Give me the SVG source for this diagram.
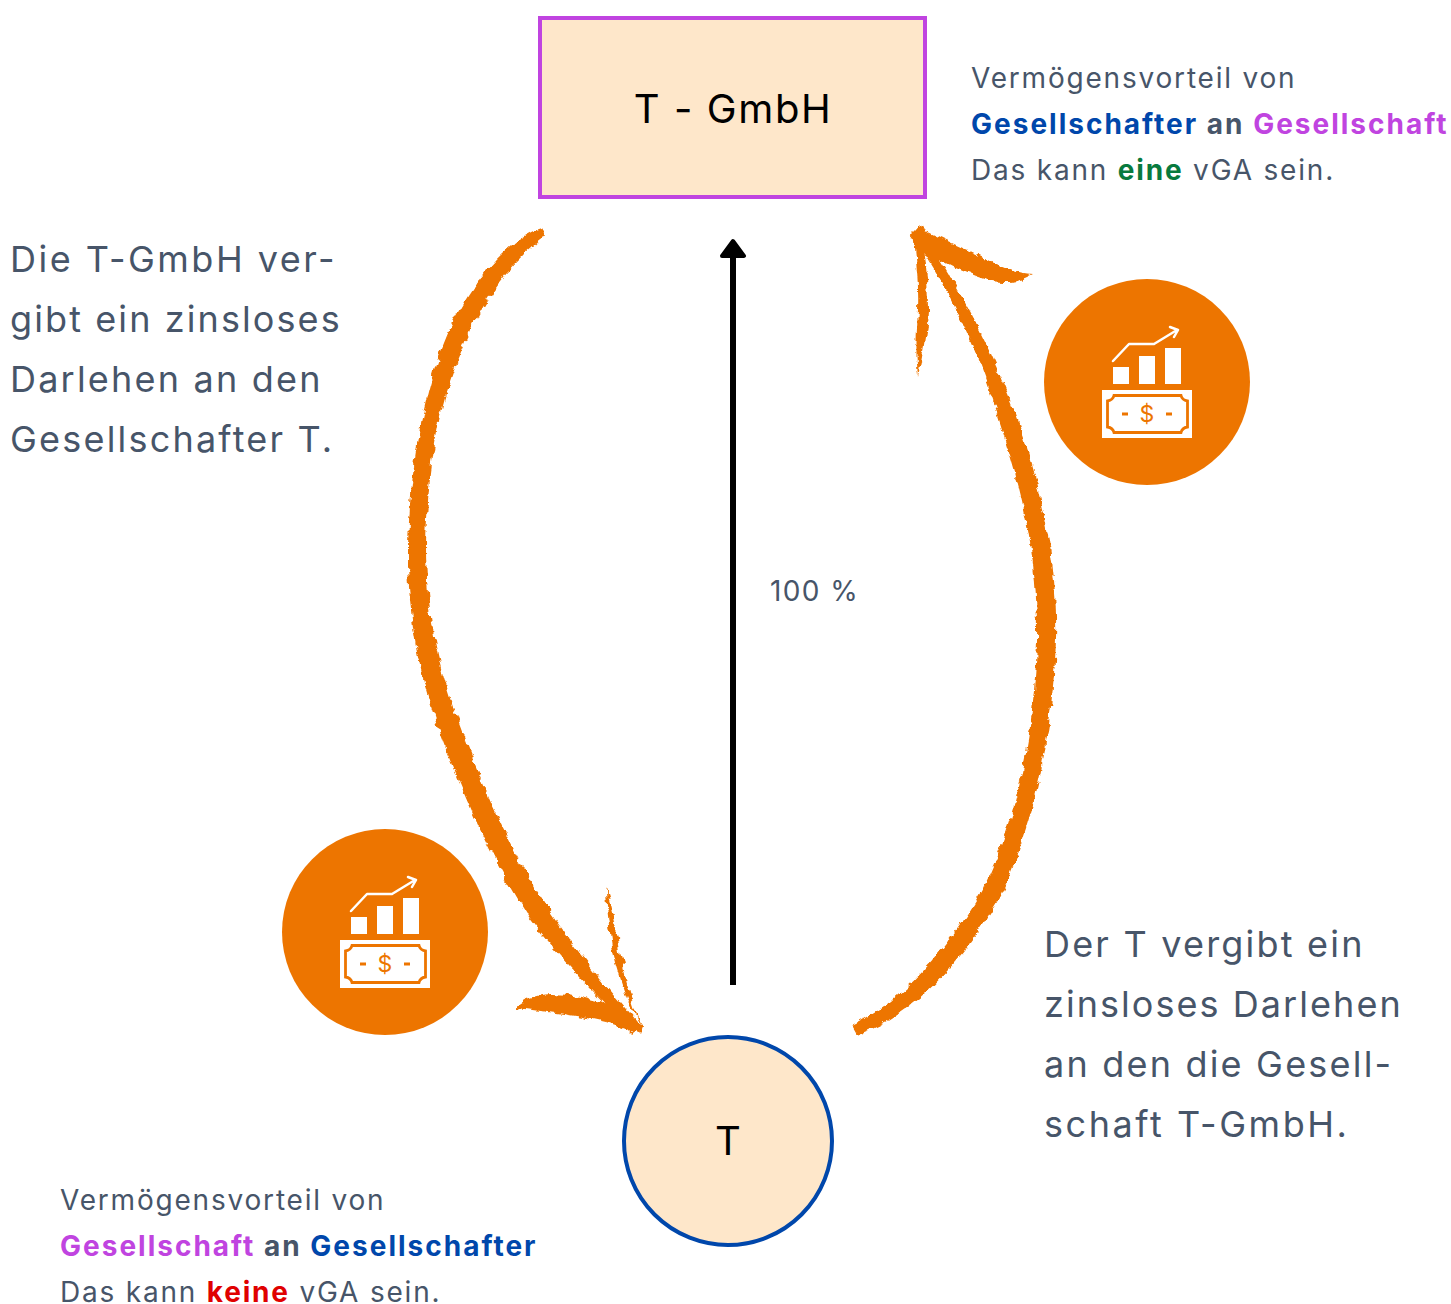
<svg xmlns="http://www.w3.org/2000/svg" xmlns:xlink="http://www.w3.org/1999/xlink" width="1451" height="1304" viewBox="0 0 1451 1304">
<style>
text{font-family:Inter,"Liberation Sans",sans-serif;fill:#475569}
.n{font-size:28px;letter-spacing:1.800px}
.nb{font-size:28px;letter-spacing:2px;font-weight:700}
.l{font-size:36px;letter-spacing:2.200px}
.b{font-weight:700}
.o{fill:#ed7500}
.w{fill:#fff}
.node{font-size:40px;fill:#000;text-anchor:middle}
</style>
<defs>
<filter id="rough" x="-10%" y="-10%" width="120%" height="120%">
<feTurbulence type="fractalNoise" baseFrequency="0.09" numOctaves="4" seed="7"/>
<feDisplacementMap in="SourceGraphic" scale="8" xChannelSelector="R" yChannelSelector="G"/>
</filter>
<marker id="ah" markerUnits="userSpaceOnUse" markerWidth="30" markerHeight="24" refX="15" refY="18" orient="0" overflow="visible">
<path d="M4 18 L15 3 L26 18Z" fill="#000" stroke="#000" stroke-width="4" stroke-linejoin="round"/>
</marker>
<g id="icon">
<circle cx="1147" cy="382" r="103" class="o"/>
<path class="w" d="M1113 367h16v17h-16zM1139 356h16v28h-16zM1165 348h16v36h-16zM1102 390h90v48h-90z"/>
<path d="M1113 361L1129 344H1154L1177 330M1170 327L1178 330L1174 337" fill="none" stroke="#fff" stroke-width="2.500" stroke-linecap="round" stroke-linejoin="round"/>
<path d="M1114 395.500H1181Q1182 400 1187.500 401V427Q1182 428 1181 432.500H1114Q1113 428 1107.500 427V401Q1113 400 1114 395.500Z" fill="none" stroke="#ed7500" stroke-width="2.800"/>
<path d="M1122 414h6M1166 414h6" stroke="#ed7500" stroke-width="2.800"/>
<text x="1147" y="422" style="font-size:23px;fill:#ed7500;text-anchor:middle">$</text>
</g>
</defs>

<g id="connectors">
<path id="ownership" d="M733 985V256" fill="none" stroke="#000" stroke-width="6" marker-end="url(#ah)"/>
<g filter="url(#rough)" class="o">
<path id="loan-left" d="M541 228C510 238 468 283 444 343C423 393 410 470 408 545C407 610 418 672 438 727C463 797 493 862 528 917C558 957 598 997 633 1034L641 1028C607 988 574 948 547 908C512 853 482 788 457 718C437 663 426 610 426 545C428 470 438 407 460 354C482 298 512 260 546 236Z"/>
<path d="M640 1034C600 1016 560 1014 517 1008C516 1000 540 994 552 994C585 995 620 1005 642 1028ZM642 1030C628 1003 618 975 612 947C609 925 606 905 606 887C612 905 616 925 619 945C624 975 633 1005 642 1030Z"/>
<path id="loan-right" d="M852 1026L857 1035C904 1018 953 977 997 902C1032 832 1052 745 1056 640C1058 570 1044 500 1024 438C1002 373 968 298 918 226L911 233C952 293 978 347 1006 442C1026 505 1038 570 1037 640C1034 735 1018 815 983 888C943 958 898 1003 852 1026Z"/>
<path d="M911 234L917 226C942 240 967 248 992 263C1007 270 1020 274 1032 275C1016 284 1000 283 984 279C958 270 928 258 911 234ZM913 232L921 232C926 255 928 285 928 310C927 330 923 355 918 376C915 350 917 330 918 310C919 285 916 255 913 232Z"/>
</g>
</g>

<g id="node-gmbh">
<rect x="540" y="18" width="385" height="179" fill="#fee7ca" stroke="#c044e0" stroke-width="4"/>
<text x="733" y="123" class="node" style="letter-spacing:1.600px">T - GmbH</text>
</g>
<g id="node-t">
<circle cx="728" cy="1141" r="104" fill="#fee7ca" stroke="#0047ab" stroke-width="4"/>
<text x="728" y="1155" class="node">T</text>
</g>
<g id="icon-right"><use xlink:href="#icon" href="#icon"/></g>
<g id="icon-left"><use xlink:href="#icon" href="#icon" x="-762" y="550"/></g>

<g id="label-percent"><text x="770" y="601" class="n" style="letter-spacing:1.400px">100 %</text></g>
<g id="label-top-right">
<text x="971" y="88" class="n">Vermögensvorteil von</text>
<text x="971" y="134" class="nb"><tspan style="fill:#0047ab">Gesellschafter</tspan> an <tspan style="fill:#c044e0">Gesellschaft</tspan></text>
<text x="971" y="180" class="n">Das kann <tspan class="b" style="fill:#087a3e">eine</tspan> vGA sein.</text>
</g>
<g id="label-bottom-left">
<text x="60" y="1210" class="n">Vermögensvorteil von</text>
<text x="60" y="1256" class="nb"><tspan style="fill:#c044e0">Gesellschaft</tspan> an <tspan style="fill:#0047ab">Gesellschafter</tspan></text>
<text x="60" y="1302" class="n">Das kann <tspan class="b" style="fill:#e00000">keine</tspan> vGA sein.</text>
</g>
<g id="label-left">
<text x="10" y="272" class="l" style="letter-spacing:2.500px">Die T-GmbH ver-</text>
<text x="10" y="332" class="l" style="letter-spacing:2.100px">gibt ein zinsloses</text>
<text x="10" y="392" class="l">Darlehen an den</text>
<text x="10" y="452" class="l">Gesellschafter T.</text>
</g>
<g id="label-right">
<text x="1044" y="957" class="l">Der T vergibt ein</text>
<text x="1044" y="1017" class="l" style="letter-spacing:2.050px">zinsloses Darlehen</text>
<text x="1044" y="1077" class="l">an den die Gesell-</text>
<text x="1044" y="1137" class="l" style="letter-spacing:2.550px">schaft T-GmbH.</text>
</g>
</svg>
